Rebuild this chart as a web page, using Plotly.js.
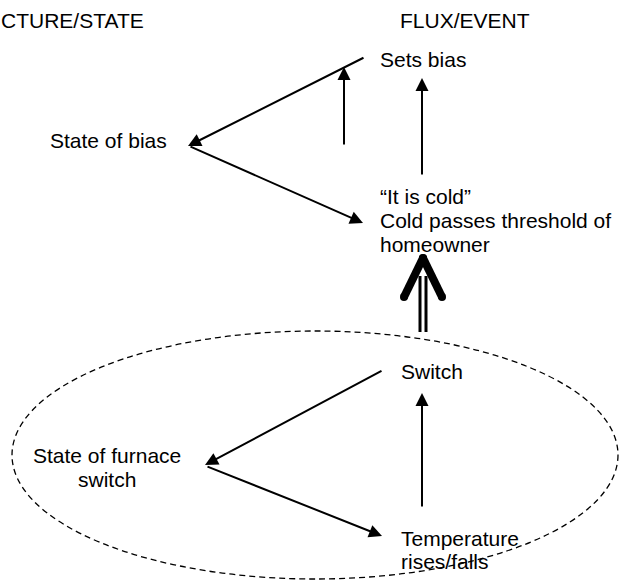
<!DOCTYPE html>
<html>
<head>
<meta charset="utf-8">
<script src="https://cdn.plot.ly/plotly-3.0.1.min.js"></script>
<style>
  html, body { margin: 0; padding: 0; background: #fff; }
  #chart { width: 619px; height: 582px; }
</style>
</head>
<body>
<div id="chart"></div>
<script>
// ---- Diagram content (canvas units: 619 x 582, y grows downward) ----
const labelText  = ["CTURE/STATE", "FLUX/EVENT", "Sets bias", "State of bias",
                    "\u201CIt is cold\u201D", "Cold passes threshold of", "homeowner",
                    "Switch", "State of furnace", "switch", "Temperature", "rises/falls"];
const labelX     = [0, 399, 379, 49, 379, 379, 379, 400, 107, 107, 400, 400];
const labelY     = [20, 20, 59, 140, 196, 220, 244, 371, 455, 479, 538, 561];
const labelAlign = ["left", "left", "left", "left", "left", "left", "left",
                    "left", "center", "center", "left", "left"];

// arrows: tail (from) -> head (to)
const arrowFromX = [365, 189, 344, 422, 383, 206, 422];
const arrowFromY = [57, 146, 146, 176, 370, 466, 508];
const arrowToX   = [188, 363, 344, 422, 205, 382, 422];
const arrowToY   = [146, 223, 67, 78, 465, 536, 393];

// thick double arrow (influence from the lower loop)
const shaftX   = [420, 420, null, 426, 426];
const shaftY   = [332, 276, null, 332, 276];
const chevronX = [404, 423, 442];
const chevronY = [297, 258, 297];

// dashed loop boundary (bounding box)
const loopX = [12, 618];
const loopY = [331, 579];

const FONT = "Liberation Sans, Arial, Helvetica, sans-serif";

const annotations = [];
for (let i = 0; i < labelText.length; i++) {
  annotations.push({
    x: labelX[i], y: labelY[i], xref: "x", yref: "y",
    text: labelText[i], showarrow: false,
    xanchor: labelAlign[i], yanchor: "middle", borderpad: 0,
    font: { family: FONT, size: 21, color: "#000" }
  });
}
for (let i = 0; i < arrowFromX.length; i++) {
  annotations.push({
    x: arrowToX[i], y: arrowToY[i], xref: "x", yref: "y",
    ax: arrowFromX[i], ay: arrowFromY[i], axref: "x", ayref: "y",
    text: "", showarrow: true, arrowhead: 2, arrowsize: 1.3,
    arrowwidth: 2, arrowcolor: "#000", standoff: 0, startstandoff: 0
  });
}

const traces = [
  { x: shaftX, y: shaftY, mode: "lines", line: { color: "#000", width: 3 },
    hoverinfo: "skip", showlegend: false },
  { x: chevronX.slice(0, 2), y: chevronY.slice(0, 2), mode: "lines+markers",
    line: { color: "#000", width: 8 }, marker: { color: "#000", size: 8 },
    hoverinfo: "skip", showlegend: false },
  { x: chevronX.slice(1, 3), y: chevronY.slice(1, 3), mode: "lines+markers",
    line: { color: "#000", width: 8 }, marker: { color: "#000", size: 8 },
    hoverinfo: "skip", showlegend: false }
];

const layout = {
  width: 619, height: 582,
  margin: { l: 0, r: 0, t: 0, b: 0, pad: 0 },
  paper_bgcolor: "#fff", plot_bgcolor: "#fff",
  showlegend: false,
  xaxis: { range: [0, 619], visible: false, fixedrange: true },
  yaxis: { range: [582, 0], visible: false, fixedrange: true },
  shapes: [{
    type: "circle", xref: "x", yref: "y",
    x0: loopX[0], x1: loopX[1], y0: loopY[0], y1: loopY[1],
    line: { color: "#000", width: 1.3, dash: "6px,4px" }
  }],
  annotations: annotations
};

Plotly.newPlot("chart", traces, layout, { displayModeBar: false, staticPlot: true });
</script>
</body>
</html>
